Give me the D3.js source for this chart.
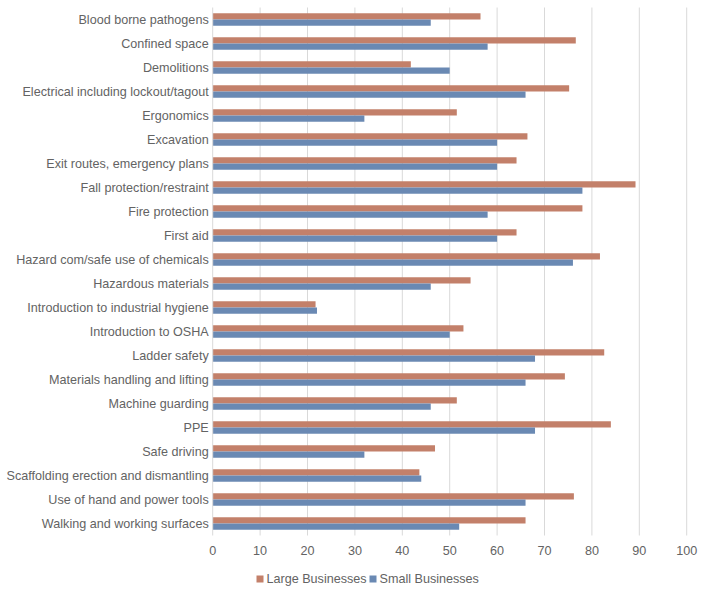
<!DOCTYPE html>
<html><head><meta charset="utf-8">
<script src="https://cdn.jsdelivr.net/npm/d3@7"></script>
<style>body{margin:0;background:#fff;} svg{display:block;font-family:"Liberation Sans",Arial,sans-serif;}</style>
</head><body><svg id="c" width="704" height="595"></svg>
<script>
const categories = ["Blood borne pathogens","Confined space","Demolitions","Electrical including lockout/tagout","Ergonomics","Excavation","Exit routes, emergency plans","Fall protection/restraint","Fire protection","First aid","Hazard com/safe use of chemicals","Hazardous materials","Introduction to industrial hygiene","Introduction to OSHA","Ladder safety","Materials handling and lifting","Machine guarding","PPE","Safe driving","Scaffolding erection and dismantling","Use of hand and power tools","Walking and working surfaces"];
const largeBusinesses = [56.5,76.6,41.8,75.2,51.5,66.4,64.1,89.2,78.0,64.1,81.7,54.4,21.7,52.9,82.6,74.3,51.5,84.0,46.9,43.6,76.2,66];
const smallBusinesses = [46,58,50,66,32,60,60,78,58,60,76,46,22,50,68,66,46,68,32,44,66,52];
const xTicks = [0,10,20,30,40,50,60,70,80,90,100];
const seriesNames = ["Large Businesses","Small Businesses"];
const colors = ["#c3806a","#6a89b3"];

const svg = d3.select("#c");
const pLeft = 212.7, pRight = 686.7, pTop = 7.5, pBottom = 535.5;
const x = d3.scaleLinear().domain([0,100]).range([pLeft,pRight]);
const y = d3.scaleBand().domain(categories).range([pTop,pBottom]).paddingInner(0.48).paddingOuter(0.24);
const sub = d3.scaleBand().domain(seriesNames).range([0,y.bandwidth()]);
const fs = 12.6, txt = "#636363";

// grid
svg.append("g").selectAll("line").data(xTicks.slice(1)).join("line")
  .attr("x1",d=>x(d)).attr("x2",d=>x(d)).attr("y1",pTop).attr("y2",pBottom)
  .attr("stroke","#d9d9d9").attr("stroke-width",1);

const series = [largeBusinesses, smallBusinesses];
series.forEach((vals,si)=>{
  svg.append("g").selectAll("rect").data(categories).join("rect")
    .attr("x",x(0)).attr("y",(c)=>y(c)+sub(seriesNames[si]))
    .attr("width",(c,i)=>x(vals[i])-x(0)).attr("height",sub.bandwidth())
    .attr("fill",colors[si]);
});

// y axis line
svg.append("line").attr("x1",x(0)).attr("x2",x(0)).attr("y1",pTop).attr("y2",pBottom)
  .attr("stroke","#d9d9d9").attr("stroke-width",1);

// category labels
svg.append("g").selectAll("text").data(categories).join("text")
  .attr("x",pLeft-4).attr("y",c=>y(c)+y.bandwidth()/2).attr("dy","0.35em")
  .attr("text-anchor","end").attr("font-size",fs).attr("fill",txt).text(d=>d);

// x tick labels
svg.append("g").selectAll("text").data(xTicks).join("text")
  .attr("x",d=>x(d)).attr("y",551).attr("dy","0.35em")
  .attr("text-anchor","middle").attr("font-size",fs).attr("fill",txt).text(d=>d);

// legend
const lg = svg.append("g");
const legendX = [256.5, 369.5];
seriesNames.forEach((n,i)=>{
  lg.append("rect").attr("x",legendX[i]).attr("y",575.5).attr("width",7).attr("height",7).attr("fill",colors[i]);
  lg.append("text").attr("x",legendX[i]+10).attr("y",579).attr("dy","0.35em")
    .attr("font-size",fs).attr("fill",txt).text(n);
});
</script></body></html>
